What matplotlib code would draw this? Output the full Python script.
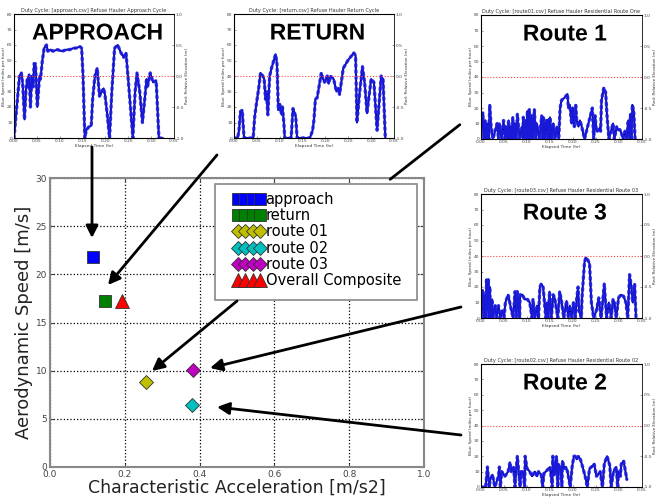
import matplotlib
matplotlib.use("Agg")
import matplotlib.pyplot as plt
import matplotlib.patheffects as pe
from matplotlib.patches import Rectangle, FancyArrowPatch
import numpy as np

# main scatter: characteristic acceleration vs aerodynamic speed
cycle_names = ["approach", "return", "route 01", "route 02", "route 03", "Overall Composite"]
char_accel = [0.114, 0.148, 0.257, 0.380, 0.383, 0.193]
aero_speed = [21.85, 17.2, 8.85, 6.42, 10.06, 17.2]
cycle_markers = ["s", "s", "D", "D", "D", "^"]
cycle_colours = ["#0000ff", "#008000", "#bfbf00", "#00bfbf", "#bf00bf", "#ff0000"]

# speed traces (hours, mph)
approach_t = [0.000, 0.006, 0.012, 0.016, 0.019, 0.023, 0.026, 0.029, 0.031, 0.033, 0.036,
              0.039, 0.042, 0.044, 0.047, 0.051, 0.056, 0.058, 0.062, 0.066, 0.071, 0.074,
              0.080, 0.085, 0.095, 0.105, 0.115, 0.122, 0.130, 0.136, 0.144, 0.148, 0.151,
              0.155, 0.158, 0.163, 0.169, 0.172, 0.177, 0.182, 0.187, 0.192, 0.196, 0.199,
              0.204, 0.209, 0.214, 0.220, 0.227, 0.231, 0.234, 0.240, 0.245, 0.252, 0.260,
              0.265, 0.269, 0.275, 0.281, 0.286, 0.290, 0.292, 0.298, 0.304, 0.311, 0.317,
              0.325]
approach_v = [0, 20, 40, 42, 35, 12, 30, 38, 33, 41, 20,
              40, 33, 48, 48, 20, 40, 38, 50, 58, 60, 56,
              57, 56, 57, 56, 57, 57, 58, 58, 59, 58, 40,
              0, 5, 7, 8, 25, 40, 45, 27, 30, 32, 28,
              15, 0, 30, 58, 60, 57, 55, 52, 55, 30, 0,
              30, 42, 30, 10, 25, 38, 33, 42, 36, 37, 0,
              0]

return_t = [0.000, 0.008, 0.011, 0.014, 0.018, 0.022, 0.030, 0.042, 0.045, 0.049, 0.054,
            0.058, 0.063, 0.066, 0.069, 0.071, 0.074, 0.078, 0.082, 0.087, 0.091, 0.094,
            0.097, 0.100, 0.104, 0.106, 0.109, 0.111, 0.118, 0.125, 0.129, 0.135, 0.138,
            0.150, 0.166, 0.172, 0.175, 0.178, 0.182, 0.187, 0.191, 0.195, 0.198, 0.204,
            0.207, 0.211, 0.218, 0.224, 0.228, 0.231, 0.239, 0.249, 0.257, 0.262, 0.266,
            0.269, 0.275, 0.281, 0.286, 0.291, 0.300, 0.306, 0.313, 0.322, 0.326, 0.331]
return_v = [0, 0, 5, 17, 18, 0, 0, 0, 13, 22, 32,
            42, 40, 38, 25, 30, 15, 40, 45, 50, 54, 48,
            18, 22, 15, 20, 10, 0, 0, 0, 19, 14, 0,
            0, 0, 5, 12, 25, 26, 35, 42, 38, 36, 40,
            35, 40, 38, 30, 32, 28, 45, 50, 53, 55, 53,
            10, 30, 46, 35, 16, 38, 36, 5, 40, 38, 0]

route01_t = [0.000, 0.004, 0.007, 0.009, 0.012, 0.014, 0.017, 0.019, 0.022, 0.026, 0.035, 0.038,
             0.040, 0.045, 0.049, 0.052, 0.054, 0.057, 0.060, 0.062, 0.064, 0.067, 0.069,
             0.072, 0.074, 0.077, 0.079, 0.084, 0.089, 0.091, 0.092, 0.095, 0.098, 0.100,
             0.101, 0.103, 0.105, 0.108, 0.110, 0.113, 0.116, 0.119, 0.121, 0.127, 0.132,
             0.134, 0.136, 0.139, 0.142, 0.145, 0.147, 0.149, 0.150, 0.154, 0.157, 0.161,
             0.165, 0.169, 0.172, 0.175, 0.183, 0.188, 0.190, 0.193, 0.195, 0.197, 0.199,
             0.201, 0.203, 0.204, 0.206, 0.208, 0.212, 0.215, 0.219, 0.225, 0.242, 0.245,
             0.248, 0.251, 0.253, 0.258, 0.260, 0.262, 0.267, 0.271, 0.274, 0.278, 0.287,
             0.290, 0.295, 0.298, 0.302, 0.305, 0.309, 0.313, 0.317, 0.320, 0.323, 0.325,
             0.327, 0.329, 0.332, 0.335]
route01_v = [0, 17, 0, 12, 0, 10, 0, 22, 8, 0, 10, 0,
             10, 0, 12, 0, 8, 0, 12, 0, 8, 0, 14,
             0, 10, 0, 16, 0, 8, 0, 14, 0, 12, 0,
             18, 0, 19, 0, 15, 0, 19, 0, 10, 0, 15,
             0, 14, 0, 12, 0, 13, 0, 14, 0, 10, 0,
             8, 0, 20, 25, 27, 29, 20, 22, 16, 10, 20,
             14, 8, 14, 22, 12, 8, 12, 8, 0, 20, 0,
             15, 5, 5, 7, 5, 25, 33, 30, 15, 0, 10,
             0, 8, 6, 6, 4, 0, 5, 0, 12, 0, 16,
             0, 22, 18, 0]

route03_t = [0.000, 0.004, 0.006, 0.009, 0.011, 0.012, 0.014, 0.016, 0.017, 0.019, 0.021,
             0.024, 0.026, 0.031, 0.034, 0.038, 0.042, 0.046, 0.050, 0.053, 0.059, 0.066,
             0.070, 0.074, 0.077, 0.079, 0.084, 0.085, 0.090, 0.095, 0.101, 0.106, 0.111,
             0.113, 0.117, 0.122, 0.125, 0.128, 0.131, 0.135, 0.141, 0.143, 0.146, 0.149,
             0.153, 0.157, 0.160, 0.167, 0.171, 0.175, 0.180, 0.186, 0.190, 0.193, 0.197,
             0.201, 0.205, 0.208, 0.211, 0.213, 0.218, 0.220, 0.225, 0.228, 0.233, 0.236,
             0.240, 0.245, 0.251, 0.256, 0.261, 0.265, 0.268, 0.273, 0.278, 0.283, 0.287,
             0.290, 0.294, 0.299, 0.304, 0.310, 0.315, 0.319, 0.323, 0.327, 0.330, 0.334,
             0.337]
route03_v = [0, 18, 0, 15, 0, 25, 5, 25, 0, 20, 0,
             12, 0, 8, 0, 8, 0, 5, 0, 10, 15, 5,
             0, 17, 0, 17, 0, 15, 15, 12, 12, 10, 0,
             12, 0, 8, 0, 20, 22, 20, 0, 10, 0, 17,
             0, 15, 13, 0, 17, 11, 0, 11, 0, 8, 0,
             10, 0, 12, 20, 5, 0, 15, 36, 39, 37, 35,
             10, 0, 5, 13, 0, 12, 22, 0, 10, 0, 12,
             10, 0, 13, 15, 14, 10, 0, 28, 20, 10, 22,
             0]

route02_t = [0.000, 0.010, 0.014, 0.018, 0.020, 0.025, 0.030, 0.038, 0.040, 0.042, 0.045,
             0.052, 0.059, 0.063, 0.066, 0.071, 0.074, 0.076, 0.079, 0.085, 0.087, 0.091,
             0.095, 0.096, 0.100, 0.106, 0.111, 0.117, 0.122, 0.125, 0.131, 0.134, 0.137,
             0.141, 0.147, 0.150, 0.155, 0.156, 0.160, 0.164, 0.167, 0.168, 0.172, 0.176,
             0.177, 0.181, 0.185, 0.188, 0.191, 0.194, 0.198, 0.202, 0.205, 0.208, 0.212,
             0.216, 0.221, 0.228, 0.231, 0.236, 0.240, 0.246, 0.251, 0.259, 0.264, 0.268,
             0.274, 0.280, 0.283, 0.288, 0.294, 0.297, 0.299, 0.303, 0.305, 0.310, 0.317]
route02_v = [0, 0, 13, 0, 5, 8, 0, 7, 13, 0, 10,
             7, 10, 16, 10, 13, 0, 10, 20, 0, 10, 10,
             0, 20, 12, 10, 7, 10, 7, 10, 8, 0, 9,
             10, 12, 13, 0, 20, 8, 20, 0, 15, 13, 0,
             17, 12, 13, 10, 5, 0, 13, 20, 20, 18, 20,
             18, 13, 5, 0, 12, 13, 15, 7, 10, 0, 15,
             20, 14, 0, 10, 13, 0, 10, 7, 15, 17, 5]

insets = [
    ("Duty Cycle: [approach.csv] Refuse Hauler Approach Cycle", approach_t, approach_v, "APPROACH"),
    ("Duty Cycle: [return.csv] Refuse Hauler Return Cycle", return_t, return_v, "RETURN"),
    ("Duty Cycle: [route01.csv] Refuse Hauler Residential Route One", route01_t, route01_v, "Route 1"),
    ("Duty Cycle: [route03.csv] Refuse Hauler Residential Route 03", route03_t, route03_v, "Route 3"),
    ("Duty Cycle: [route02.csv] Refuse Hauler Residential Route 02", route02_t, route02_v, "Route 2"),
]

W, H = 655, 501
inset_boxes = [(14, 14, 174, 138), (234, 14, 394, 138), (481, 15, 642, 139),
               (481, 194, 642, 318), (481, 364, 642, 487)]


def px_box(x0, y0, x1, y1):
    return [x0 / W, 1 - y1 / H, (x1 - x0) / W, (y1 - y0) / H]


def draw_inset(fig, box, title, t, v, label):
    ax = fig.add_axes(px_box(*box))
    ax.plot(t, v, "-", color="#00008c", linewidth=1.4, zorder=3)
    ax.plot(t, v, linestyle=(0, (0.6, 1.2)), color="#1e1ee6", linewidth=2.4,
            dash_capstyle="round", alpha=0.85, zorder=3)
    ax.set_xlim(0, 0.35)
    ax.set_ylim(0, 80)
    ax.set_xticks(np.arange(0, 0.36, 0.05))
    ax.set_xticklabels([f"{x:.2f}" for x in np.arange(0, 0.36, 0.05)])
    ax.set_yticks(range(0, 81, 10))
    ax.tick_params(labelsize=3.2, length=1.5, width=0.4, pad=1, colors="#444444", direction="in")
    ax.set_title(title, fontsize=3.6, pad=1.5, color="#333333")
    ax.set_xlabel("Elapsed Time (hr)", fontsize=3.2, labelpad=0.5, color="#333333")
    ax.set_ylabel("Blue: Speed (miles per hour)", fontsize=3.0, labelpad=0.5, color="#333333")
    for s in ax.spines.values():
        s.set_linewidth(0.5)
        s.set_color("#777777")

    ax2 = ax.twinx()
    ax2.set_ylim(-1, 1)
    ax2.set_yticks([-1, -0.5, 0, 0.5, 1])
    ax2.set_yticklabels(["-1.0", "-0.5", "0.0", "0.5", "1.0"])
    ax2.axhline(0, color="#ff4040", linestyle=":", linewidth=0.8)
    ax2.tick_params(labelsize=3.2, length=1.5, width=0.4, pad=1, colors="#444444", direction="in")
    ax2.set_ylabel("Red: Relative Elevation (m)", fontsize=3.0, labelpad=1, color="#333333")
    ax2.spines["right"].set_linewidth(0.5)

    cx = (box[0] + box[2]) / 2 / W
    ty = 1 - (box[1] + 19) / H
    fig.text(cx + 0.005, ty, label, fontsize=16.5, fontweight="bold",
             family="Liberation Sans", ha="center", va="center", color="black",
             path_effects=[pe.withStroke(linewidth=2.5, foreground="white")], zorder=10)


fig = plt.figure(figsize=(6.55, 5.01), dpi=100)

ax = fig.add_axes(px_box(50, 178, 424, 467))
for name, xv, yv, mk, col in zip(cycle_names, char_accel, aero_speed, cycle_markers, cycle_colours):
    ms = 10 if mk == "^" else (9 if mk == "s" else 7.5)
    ax.plot([xv], [yv], linestyle="None", marker=mk, markersize=ms, color=col,
            markeredgecolor="#333333", markeredgewidth=0.6, label=name, zorder=4)

ax.set_xlim(0, 1.0)
ax.set_ylim(0, 30)
ax.set_xticks(np.arange(0, 1.01, 0.2))
ax.set_yticks(range(0, 31, 5))
ax.grid(True, color="black", linestyle=":", linewidth=0.9)
ax.tick_params(labelsize=6.5, colors="#444444", direction="in", top=True, right=True, pad=2, length=3)
for s in ax.spines.values():
    s.set_color("#888888")
    s.set_linewidth(1.5)
ax.set_xlabel("Characteristic Acceleration [m/s2]", fontsize=12.5, labelpad=0, color="#222222")
ax.set_ylabel("Aerodynamic Speed [m/s]", fontsize=13, labelpad=2, color="#222222")

# legend frame drawn as its own box, entries placed inside it
ax.add_patch(Rectangle((0.441, 0.578), 0.540, 0.401, transform=ax.transAxes,
                       facecolor="white", edgecolor="#888888", linewidth=1.2, zorder=6))
leg = ax.legend(loc="upper left", bbox_to_anchor=(0.492, 0.952), numpoints=4,
                handlelength=2.06, handletextpad=0.1, borderaxespad=0, borderpad=0,
                fontsize=10.5, frameon=False, labelspacing=0.09)
leg.set_zorder(7)

for box, (title, t, v, label) in zip(inset_boxes, insets):
    draw_inset(fig, box, title, t, v, label)

# arrows from each inset to its point, figure pixel coordinates
arrow_kw = dict(arrowstyle="-|>,head_length=0.6,head_width=0.3", color="black", lw=2,
                shrinkA=0, shrinkB=0)
arrows = [((92, 147), (92, 238)), ((217, 155), (108, 285)), ((237, 301), (152, 371)),
          ((461, 307), (210, 368)), ((461, 435), (217, 407))]
for (x0, y0), (x1, y1) in arrows:
    fig.add_artist(FancyArrowPatch((x0 / W, 1 - y0 / H), (x1 / W, 1 - y1 / H),
                   transform=fig.transFigure, mutation_scale=12, zorder=20, **arrow_kw))
fig.add_artist(FancyArrowPatch((462 / W, 1 - 123 / H), (388 / W, 1 - 181 / H),
               transform=fig.transFigure, arrowstyle="-", color="black", lw=2, zorder=20))

fig.savefig("out.png", dpi=100)
